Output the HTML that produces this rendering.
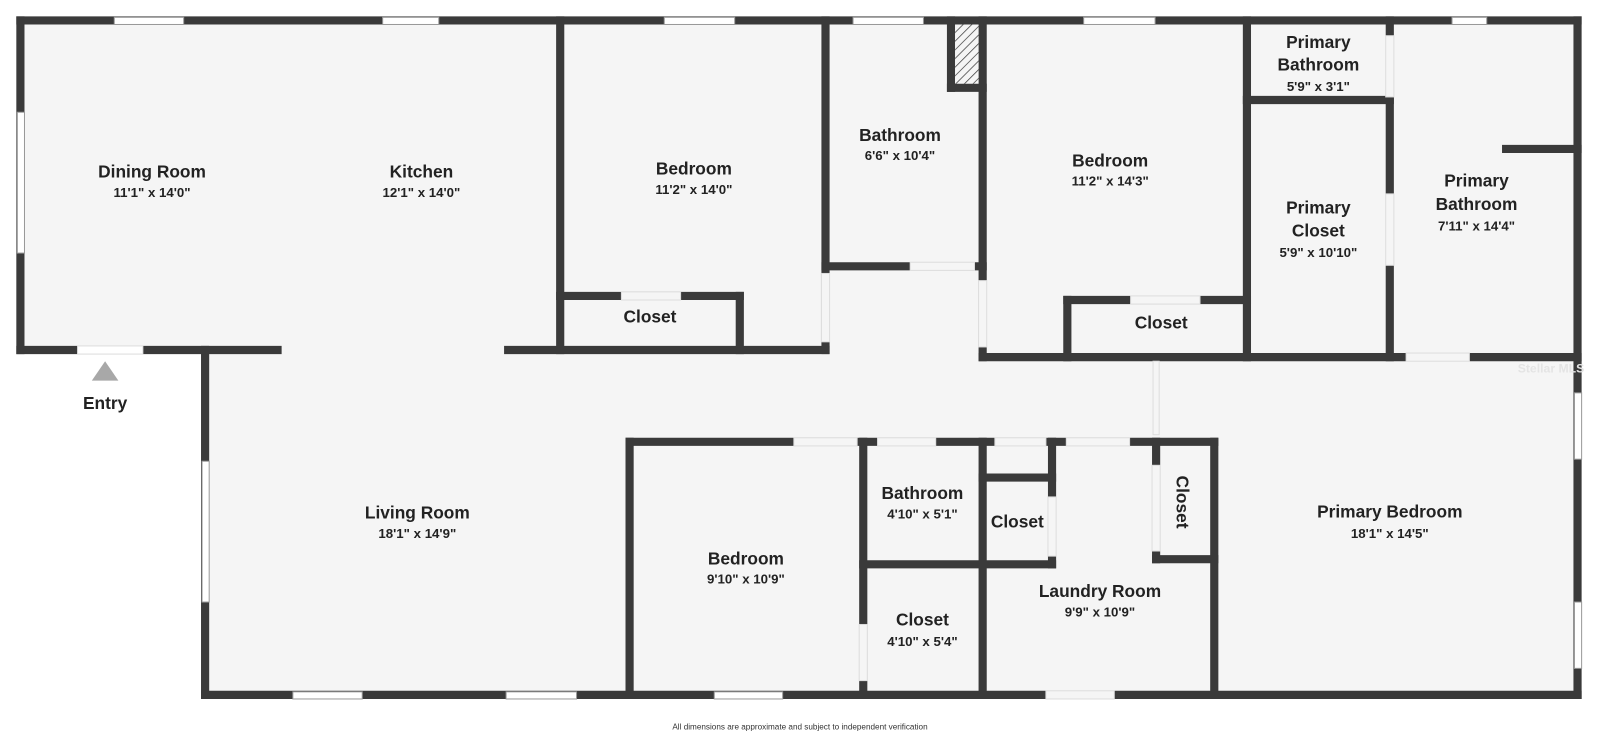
<!DOCTYPE html>
<html><head><style>
html,body{margin:0;padding:0;background:#fff;width:1600px;height:735px;overflow:hidden}
svg{display:block}
text{font-family:"Liberation Sans",sans-serif;font-weight:bold;fill:#222;text-anchor:middle}
.n{font-size:17px}.d{font-size:13px}
</style></head><body>
<svg width="1600" height="735" viewBox="0 0 1600 735">
<defs><pattern id="h" width="6" height="6" patternUnits="userSpaceOnUse" patternTransform="rotate(45)"><rect width="6" height="6" fill="#f5f5f5"/><line x1="0" y1="0" x2="0" y2="6" stroke="#444" stroke-width="1.5"/></pattern></defs>
<g transform="scale(1.0204)">
<polygon points="20,20 1546,20 1546,681 201,681 201,343 20,343" fill="#f5f5f5"/>
<g stroke="#3a3a3a" stroke-width="8" fill="none" stroke-linecap="square">
<line x1="20" y1="20" x2="1546" y2="20"/>
<line x1="20" y1="20" x2="20" y2="343"/>
<line x1="20" y1="343" x2="272" y2="343"/>
<line x1="498" y1="343" x2="809" y2="343"/>
<line x1="201" y1="343" x2="201" y2="681"/>
<line x1="201" y1="681" x2="1546" y2="681"/>
<line x1="1546" y1="20" x2="1546" y2="681"/>
<line x1="549" y1="20" x2="549" y2="343"/>
<line x1="549" y1="290" x2="725" y2="290"/>
<line x1="725" y1="290" x2="725" y2="343"/>
<line x1="809" y1="20" x2="809" y2="268"/>
<line x1="809" y1="335" x2="809" y2="343"/>
<line x1="809" y1="261" x2="963" y2="261"/>
<line x1="932" y1="20" x2="932" y2="86"/>
<line x1="932" y1="86" x2="963" y2="86"/>
<line x1="963" y1="20" x2="963" y2="275"/>
<line x1="963" y1="340" x2="963" y2="350"/>
<line x1="963" y1="350" x2="1546" y2="350"/>
<line x1="1046" y1="294" x2="1222" y2="294"/>
<line x1="1046" y1="294" x2="1046" y2="350"/>
<line x1="1222" y1="20" x2="1222" y2="350"/>
<line x1="1222" y1="98" x2="1362" y2="98"/>
<line x1="1362" y1="20" x2="1362" y2="350"/>
<line x1="1476" y1="146" x2="1546" y2="146"/>
<line x1="617" y1="433" x2="1190" y2="433"/>
<line x1="617" y1="433" x2="617" y2="681"/>
<line x1="846" y1="433" x2="846" y2="681"/>
<line x1="846" y1="553" x2="1031" y2="553"/>
<line x1="963" y1="433" x2="963" y2="681"/>
<line x1="963" y1="468" x2="1031" y2="468"/>
<line x1="1031" y1="433" x2="1031" y2="553"/>
<line x1="1133" y1="433" x2="1133" y2="548"/>
<line x1="1133" y1="548" x2="1190" y2="548"/>
<line x1="1190" y1="433" x2="1190" y2="681"/>
</g>
<rect x="936" y="24" width="23" height="58" fill="url(#h)"/>
<g fill="#f5f5f5" stroke="#ddd" stroke-width="1">
<rect x="76" y="339" width="64" height="8" fill="#fff"/>
<rect x="805" y="268" width="8" height="67"/>
<rect x="892" y="257" width="63" height="8"/>
<rect x="959" y="275" width="8" height="65"/>
<rect x="609" y="286" width="58" height="8"/>
<rect x="1108" y="290" width="68" height="8"/>
<rect x="1378" y="346" width="62" height="8"/>
<rect x="1358" y="35" width="8" height="60"/>
<rect x="1358" y="190" width="8" height="70"/>
<rect x="778" y="429" width="62" height="8"/>
<rect x="860" y="429" width="57" height="8"/>
<rect x="975" y="429" width="50" height="8"/>
<rect x="1045" y="429" width="62" height="8"/>
<rect x="1129" y="456" width="8" height="84"/>
<rect x="1027" y="487" width="8" height="58"/>
<rect x="842" y="612" width="8" height="55"/>
<rect x="1025" y="677" width="67" height="8"/>
<rect x="1130" y="354" width="6" height="72"/>
</g>
<g fill="#fff" stroke="#999" stroke-width="1">
<rect x="112" y="17" width="68" height="7"/><rect x="375" y="17" width="55" height="7"/>
<rect x="651" y="17" width="69" height="7"/><rect x="836" y="17" width="69" height="7"/>
<rect x="1062" y="17" width="70" height="7"/><rect x="1423" y="17" width="34" height="7"/>
<rect x="17" y="110" width="7" height="138"/><rect x="198" y="452" width="7" height="138"/>
<rect x="287" y="678" width="68" height="7"/><rect x="496" y="678" width="69" height="7"/>
<rect x="700" y="678" width="67" height="7"/>
<rect x="1543" y="385" width="7" height="65"/><rect x="1543" y="590" width="7" height="65"/>
</g>
<polygon points="103,354 90,373 116,373" fill="#a8a8a8"/>
<text class="n" x="103" y="401">Entry</text>
<text class="n" x="149" y="174">Dining Room</text><text class="d" x="149" y="193">11'1" x 14'0"</text>
<text class="n" x="413" y="174">Kitchen</text><text class="d" x="413" y="193">12'1" x 14'0"</text>
<text class="n" x="680" y="171">Bedroom</text><text class="d" x="680" y="190">11'2" x 14'0"</text>
<text class="n" x="637" y="316">Closet</text>
<text class="n" x="882" y="138">Bathroom</text><text class="d" x="882" y="157">6'6" x 10'4"</text>
<text class="n" x="1088" y="163">Bedroom</text><text class="d" x="1088" y="182">11'2" x 14'3"</text>
<text class="n" x="1138" y="322">Closet</text>
<text class="n" x="1292" y="47">Primary</text><text class="n" x="1292" y="69">Bathroom</text><text class="d" x="1292" y="89">5'9" x 3'1"</text>
<text class="n" x="1292" y="209">Primary</text><text class="n" x="1292" y="232">Closet</text><text class="d" x="1292" y="252">5'9" x 10'10"</text>
<text class="n" x="1447" y="183">Primary</text><text class="n" x="1447" y="206">Bathroom</text><text class="d" x="1447" y="226">7'11" x 14'4"</text>
<text class="n" x="409" y="508">Living Room</text><text class="d" x="409" y="527">18'1" x 14'9"</text>
<text class="n" x="731" y="553">Bedroom</text><text class="d" x="731" y="572">9'10" x 10'9"</text>
<text class="n" x="904" y="489">Bathroom</text><text class="d" x="904" y="508">4'10" x 5'1"</text>
<text class="n" x="997" y="517">Closet</text>
<text class="n" x="904" y="613">Closet</text><text class="d" x="904" y="633">4'10" x 5'4"</text>
<text class="n" x="1078" y="585">Laundry Room</text><text class="d" x="1078" y="604">9'9" x 10'9"</text>
<text class="n" transform="translate(1159,492) rotate(90)" x="0" y="6">Closet</text>
<text class="n" x="1362" y="507">Primary Bedroom</text><text class="d" x="1362" y="527">18'1" x 14'5"</text>
<text x="784" y="715" style="font-size:8px;font-weight:normal;fill:#333">All dimensions are approximate and subject to independent verification</text>
<text x="1520" y="365" style="font-size:12px;fill:#e4e4e4">Stellar MLS</text>
</g>
</svg>
</body></html>
